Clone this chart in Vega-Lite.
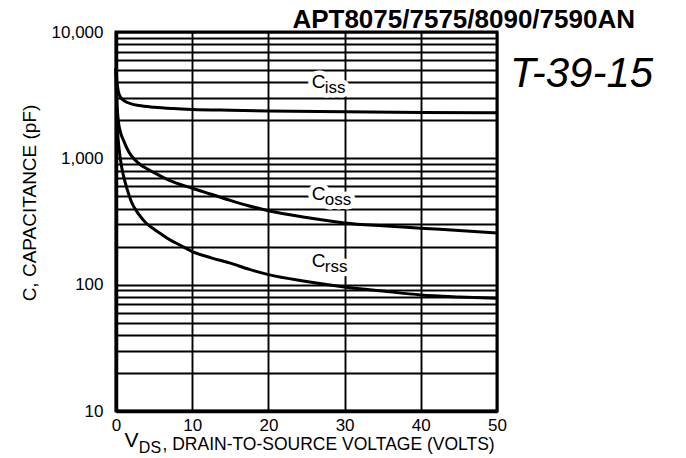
{
  "$schema": "https://vega.github.io/schema/vega-lite/v6.json",
  "width": 381,
  "height": 379,
  "autosize": {"type": "none"},
  "padding": {"left": 116, "top": 32, "right": 189, "bottom": 47},
  "background": "white",
  "config": {
    "view": {"stroke": "black", "strokeWidth": 3},
    "axis": {
      "grid": true,
      "gridColor": "black",
      "gridWidth": 1.9,
      "gridOpacity": 1,
      "domainColor": "black",
      "domainWidth": 3.5,
      "ticks": false,
      "tickSize": 0,
      "labelColor": "black",
      "labelFont": "Liberation Sans",
      "labelFontSize": 17,
      "titleColor": "black"
    }
  },
  "datasets": {
    "curves": [
      {"series": "Ciss", "v": 0, "c": 5200},
      {"series": "Ciss", "v": 0.1, "c": 4200},
      {"series": "Ciss", "v": 0.3, "c": 3400},
      {"series": "Ciss", "v": 0.6, "c": 3050},
      {"series": "Ciss", "v": 1, "c": 2880},
      {"series": "Ciss", "v": 2, "c": 2700},
      {"series": "Ciss", "v": 3, "c": 2620},
      {"series": "Ciss", "v": 5, "c": 2540},
      {"series": "Ciss", "v": 7.5, "c": 2480},
      {"series": "Ciss", "v": 10, "c": 2440},
      {"series": "Ciss", "v": 15, "c": 2400},
      {"series": "Ciss", "v": 20, "c": 2370},
      {"series": "Ciss", "v": 30, "c": 2340},
      {"series": "Ciss", "v": 40, "c": 2310},
      {"series": "Ciss", "v": 50, "c": 2290},
      {"series": "Coss", "v": 0, "c": 5200},
      {"series": "Coss", "v": 0.1, "c": 3000},
      {"series": "Coss", "v": 0.3, "c": 2000},
      {"series": "Coss", "v": 0.6, "c": 1600},
      {"series": "Coss", "v": 1, "c": 1380},
      {"series": "Coss", "v": 1.5, "c": 1180},
      {"series": "Coss", "v": 2, "c": 1050},
      {"series": "Coss", "v": 3, "c": 910},
      {"series": "Coss", "v": 4, "c": 830},
      {"series": "Coss", "v": 5, "c": 770},
      {"series": "Coss", "v": 7, "c": 670},
      {"series": "Coss", "v": 10, "c": 580},
      {"series": "Coss", "v": 12.5, "c": 520},
      {"series": "Coss", "v": 15, "c": 465},
      {"series": "Coss", "v": 17.5, "c": 420},
      {"series": "Coss", "v": 20, "c": 385},
      {"series": "Coss", "v": 25, "c": 340},
      {"series": "Coss", "v": 30, "c": 308},
      {"series": "Coss", "v": 35, "c": 292},
      {"series": "Coss", "v": 40, "c": 280},
      {"series": "Coss", "v": 45, "c": 268},
      {"series": "Coss", "v": 50, "c": 257},
      {"series": "Crss", "v": 0, "c": 5200},
      {"series": "Crss", "v": 0.1, "c": 2200},
      {"series": "Crss", "v": 0.2, "c": 1650},
      {"series": "Crss", "v": 0.4, "c": 1200},
      {"series": "Crss", "v": 0.7, "c": 880},
      {"series": "Crss", "v": 1, "c": 720},
      {"series": "Crss", "v": 1.5, "c": 560},
      {"series": "Crss", "v": 2, "c": 455},
      {"series": "Crss", "v": 3, "c": 360},
      {"series": "Crss", "v": 4, "c": 305},
      {"series": "Crss", "v": 5, "c": 275},
      {"series": "Crss", "v": 6, "c": 250},
      {"series": "Crss", "v": 7, "c": 228},
      {"series": "Crss", "v": 8.5, "c": 204},
      {"series": "Crss", "v": 10, "c": 183},
      {"series": "Crss", "v": 12.5, "c": 163},
      {"series": "Crss", "v": 15, "c": 148},
      {"series": "Crss", "v": 17.5, "c": 132},
      {"series": "Crss", "v": 20, "c": 120},
      {"series": "Crss", "v": 25, "c": 106},
      {"series": "Crss", "v": 30, "c": 96},
      {"series": "Crss", "v": 35, "c": 89},
      {"series": "Crss", "v": 40, "c": 83},
      {"series": "Crss", "v": 45, "c": 80},
      {"series": "Crss", "v": 50, "c": 78}
    ],
    "labels": [
      {"main": "C", "sub": "iss", "v": 25.7, "c": 3600},
      {"main": "C", "sub": "oss", "v": 25.7, "c": 469},
      {"main": "C", "sub": "rss", "v": 25.7, "c": 138}
    ],
    "one": [{}]
  },
  "layer": [
    {
      "data": {"name": "curves"},
      "mark": {"type": "line", "color": "black", "strokeWidth": 3, "interpolate": "monotone"},
      "encoding": {
        "x": {
          "field": "v",
          "type": "quantitative",
          "scale": {"domain": [0, 50], "nice": false, "zero": false},
          "axis": {
            "values": [0, 5, 10, 15, 20, 25, 30, 35, 40, 45, 50],
            "labelExpr": "datum.value % 10 === 0 ? datum.label : ''",
            "labelFlush": false,
            "labelOverlap": false,
            "labelPadding": 6,
            "title": null
          }
        },
        "y": {
          "field": "c",
          "type": "quantitative",
          "scale": {"type": "log", "domain": [10, 10000], "nice": false},
          "axis": {
            "values": [10, 20, 30, 40, 50, 60, 70, 80, 90, 100, 200, 300, 400, 500, 600, 700, 800, 900, 1000, 2000, 3000, 4000, 5000, 6000, 7000, 8000, 9000, 10000],
            "labelExpr": "(datum.value === 10 || datum.value === 100 || datum.value === 1000 || datum.value === 10000) ? format(datum.value, ',') : ''",
            "labelOverlap": false,
            "labelPadding": 13,
            "title": null
          }
        },
        "detail": {"field": "series"}
      }
    },
    {
      "data": {"name": "labels"},
      "mark": {"type": "text", "align": "left", "baseline": "alphabetic", "font": "Liberation Sans", "fontSize": 19, "fill": "white", "stroke": "white", "strokeWidth": 9, "strokeJoin": "round"},
      "encoding": {
        "x": {"field": "v", "type": "quantitative"},
        "y": {"field": "c", "type": "quantitative"},
        "text": {"field": "main"}
      }
    },
    {
      "data": {"name": "labels"},
      "mark": {"type": "text", "align": "left", "baseline": "alphabetic", "dx": 13, "dy": 5, "font": "Liberation Sans", "fontSize": 17, "fill": "white", "stroke": "white", "strokeWidth": 9, "strokeJoin": "round"},
      "encoding": {
        "x": {"field": "v", "type": "quantitative"},
        "y": {"field": "c", "type": "quantitative"},
        "text": {"field": "sub"}
      }
    },
    {
      "data": {"name": "labels"},
      "mark": {"type": "text", "align": "left", "baseline": "alphabetic", "font": "Liberation Sans", "fontSize": 19, "fill": "black"},
      "encoding": {
        "x": {"field": "v", "type": "quantitative"},
        "y": {"field": "c", "type": "quantitative"},
        "text": {"field": "main"}
      }
    },
    {
      "data": {"name": "labels"},
      "mark": {"type": "text", "align": "left", "baseline": "alphabetic", "dx": 13, "dy": 5, "font": "Liberation Sans", "fontSize": 17, "fill": "black"},
      "encoding": {
        "x": {"field": "v", "type": "quantitative"},
        "y": {"field": "c", "type": "quantitative"},
        "text": {"field": "sub"}
      }
    },
    {
      "data": {"name": "one"},
      "mark": {"type": "text", "align": "right", "baseline": "alphabetic", "dx": 138, "dy": -4, "font": "Liberation Sans", "fontSize": 26, "fontWeight": "bold", "fill": "black"},
      "encoding": {
        "x": {"datum": 50, "type": "quantitative"},
        "y": {"datum": 10000, "type": "quantitative"},
        "text": {"value": "APT8075/7575/8090/7590AN"}
      }
    },
    {
      "data": {"name": "one"},
      "mark": {"type": "text", "align": "left", "baseline": "alphabetic", "font": "Liberation Sans", "fontSize": 42, "fontStyle": "italic", "fill": "black"},
      "encoding": {
        "x": {"datum": 51.7, "type": "quantitative"},
        "y": {"datum": 3670, "type": "quantitative"},
        "text": {"value": "T-39-15"}
      }
    },
    {
      "data": {"name": "one"},
      "mark": {"type": "text", "align": "center", "baseline": "middle", "angle": 270, "dy": -86, "font": "Liberation Sans", "fontSize": 19, "fill": "black"},
      "encoding": {
        "x": {"datum": 0, "type": "quantitative"},
        "y": {"datum": 443, "type": "quantitative"},
        "text": {"value": "C, CAPACITANCE (pF)"}
      }
    },
    {
      "data": {"name": "one"},
      "mark": {"type": "text", "align": "left", "baseline": "alphabetic", "dy": 36, "font": "Liberation Sans", "fontSize": 21, "fill": "black"},
      "encoding": {
        "x": {"datum": 1.1, "type": "quantitative"},
        "y": {"datum": 10, "type": "quantitative"},
        "text": {"value": "V"}
      }
    },
    {
      "data": {"name": "one"},
      "mark": {"type": "text", "align": "left", "baseline": "alphabetic", "dy": 42, "font": "Liberation Sans", "fontSize": 16, "fill": "black"},
      "encoding": {
        "x": {"datum": 3.0, "type": "quantitative"},
        "y": {"datum": 10, "type": "quantitative"},
        "text": {"value": "DS"}
      }
    },
    {
      "data": {"name": "one"},
      "mark": {"type": "text", "align": "left", "baseline": "alphabetic", "dy": 39, "font": "Liberation Sans", "fontSize": 17.5, "fill": "black"},
      "encoding": {
        "x": {"datum": 6.1, "type": "quantitative"},
        "y": {"datum": 10, "type": "quantitative"},
        "text": {"value": ", DRAIN-TO-SOURCE VOLTAGE (VOLTS)"}
      }
    }
  ]
}
